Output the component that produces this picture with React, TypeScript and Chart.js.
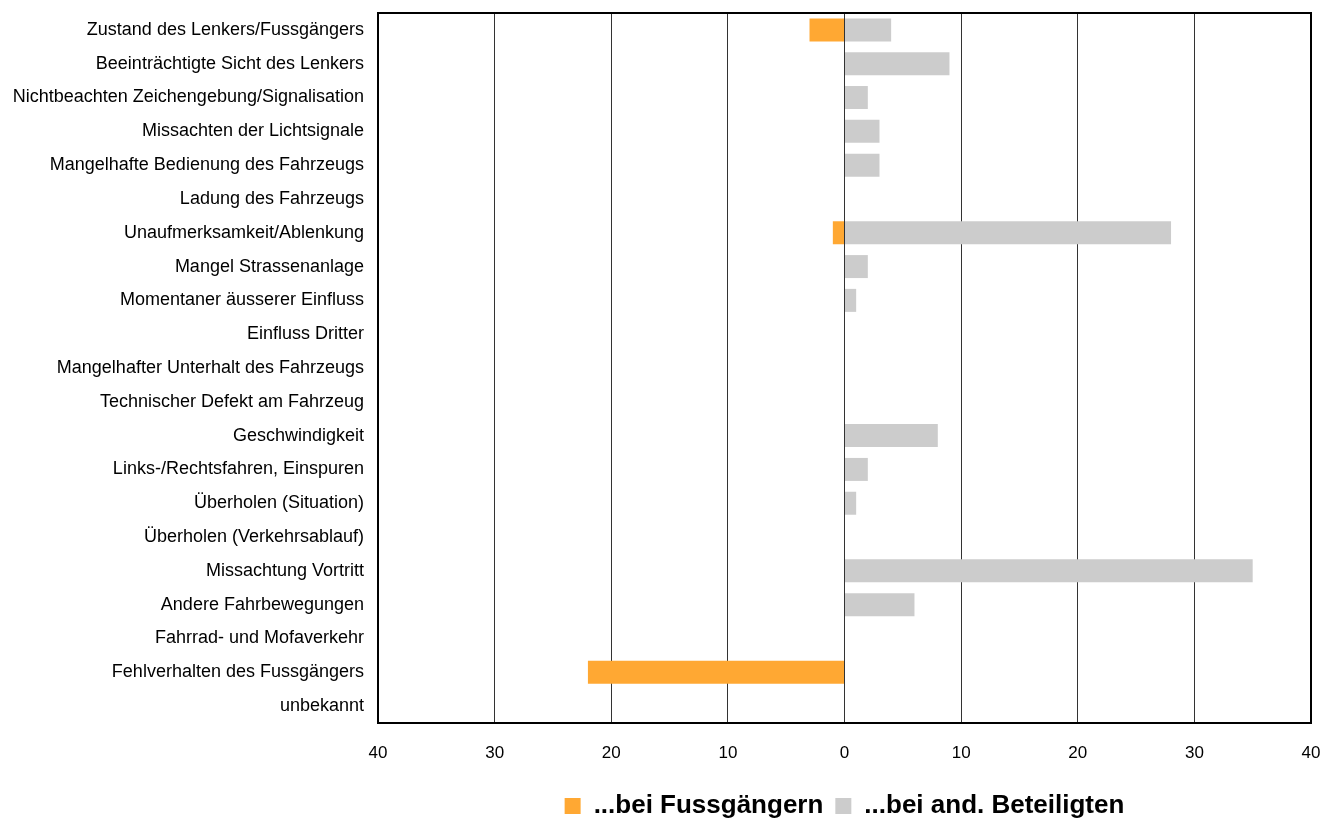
import React, { useEffect, useRef } from "react";
import { Chart, registerables } from "chart.js";

Chart.register(...registerables);

const categories = [
  "Zustand des Lenkers/Fussgängers",
  "Beeinträchtigte Sicht des Lenkers",
  "Nichtbeachten Zeichengebung/Signalisation",
  "Missachten der Lichtsignale",
  "Mangelhafte Bedienung des Fahrzeugs",
  "Ladung des Fahrzeugs",
  "Unaufmerksamkeit/Ablenkung",
  "Mangel Strassenanlage",
  "Momentaner äusserer Einfluss",
  "Einfluss Dritter",
  "Mangelhafter Unterhalt des Fahrzeugs",
  "Technischer Defekt am Fahrzeug",
  "Geschwindigkeit",
  "Links-/Rechtsfahren, Einspuren",
  "Überholen (Situation)",
  "Überholen (Verkehrsablauf)",
  "Missachtung Vortritt",
  "Andere Fahrbewegungen",
  "Fahrrad- und Mofaverkehr",
  "Fehlverhalten des Fussgängers",
  "unbekannt",
];

const fussgaenger = [-3, 0, 0, 0, 0, 0, -1, 0, 0, 0, 0, 0, 0, 0, 0, 0, 0, 0, 0, -22, 0];
const andere = [4, 9, 2, 3, 3, 0, 28, 2, 1, 0, 0, 0, 8, 2, 1, 0, 35, 6, 0, 0, 0];

const seriesNames = ["...bei Fussgängern", "...bei and. Beteiligten"];
const xMin = -40;
const xMax = 40;
const xStep = 10;

const FONT = "'Liberation Sans', Arial, sans-serif";

const boxPlugin = {
  id: "boxPlugin",
  afterDraw(chart: any) {
    const { ctx, chartArea } = chart;
    ctx.save();
    ctx.strokeStyle = "#000";
    ctx.lineWidth = 2;
    ctx.strokeRect(chartArea.left, chartArea.top, chartArea.right - chartArea.left, chartArea.bottom - chartArea.top);
    ctx.restore();
  },
};

export default function App() {
  const ref = useRef<HTMLCanvasElement | null>(null);
  useEffect(() => {
    if (!ref.current) return;
    const chart = new Chart(ref.current, {
      type: "bar",
      data: {
        labels: categories,
        datasets: [
          {
            label: seriesNames[0],
            data: fussgaenger,
            backgroundColor: "#FFA833",
            barPercentage: 0.68,
            categoryPercentage: 1,
          },
          {
            label: seriesNames[1],
            data: andere,
            backgroundColor: "#CCCCCC",
            barPercentage: 0.68,
            categoryPercentage: 1,
          },
        ],
      },
      options: {
        indexAxis: "y",
        animation: false,
        responsive: false,
        maintainAspectRatio: false,
        layout: { padding: { top: 13, right: 11, left: 0, bottom: -8 } },
        plugins: {
          tooltip: { enabled: false },
          legend: {
            position: "bottom",
            fullSize: false,
            labels: {
              font: { family: FONT, size: 26, weight: "bold", lineHeight: 1 },
              color: "#000",
              boxWidth: 16,
              boxHeight: 16,
              padding: 12,
            },
          },
        },
        scales: {
          x: {
            stacked: true,
            min: xMin,
            max: xMax,
            ticks: {
              stepSize: xStep,
              color: "#000",
              font: { family: FONT, size: 17 },
              padding: 20,
              maxRotation: 0,
              callback: (v: any) => String(Math.abs(Number(v))),
            },
            grid: { color: "#333", lineWidth: 1, drawTicks: false },
            border: { display: false },
            afterFit(scale: any) {
              scale.height = 58;
              scale.paddingLeft = 0;
              scale.paddingRight = 0;
            },
          },
          y: {
            stacked: true,
            ticks: {
              color: "#000",
              font: { family: FONT, size: 18 },
              padding: 14,
              autoSkip: false,
            },
            grid: { display: false, drawTicks: false },
            border: { display: false },
            afterFit(scale: any) {
              scale.width = 378;
              scale.paddingTop = 0;
              scale.paddingBottom = 0;
            },
          },
        },
      },
      plugins: [boxPlugin],
    });
    return () => chart.destroy();
  }, []);
  return (
    <div style={{ position: "fixed", left: 0, top: 0, width: 1322, height: 821, background: "#fff" }}>
      <canvas ref={ref} width={1322} height={821} style={{ width: 1322, height: 821, display: "block" }} />
    </div>
  );
}
